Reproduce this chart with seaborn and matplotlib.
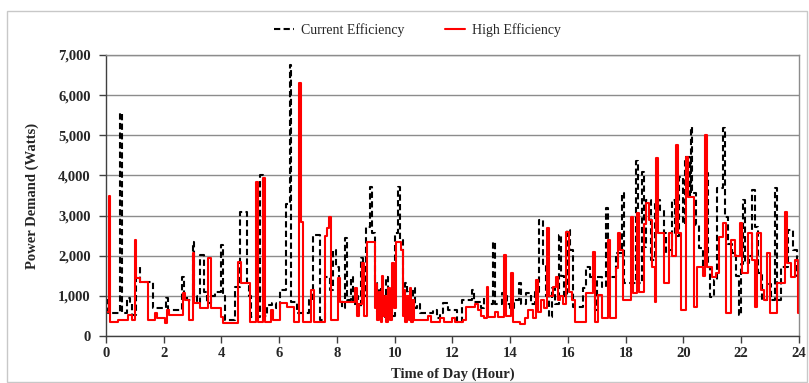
import matplotlib
matplotlib.use("Agg")
import matplotlib.pyplot as plt
from matplotlib.patches import Rectangle
from matplotlib.ticker import FuncFormatter, MultipleLocator
import pandas as pd
import seaborn as sns

# Household power demand over one day, step changes (hour of day, watts)
current_hours = [
    0.00, 0.07, 0.48, 0.54, 0.73, 0.83, 0.90, 1.04, 1.18, 1.63, 2.08, 2.15, 2.65, 2.70,
    2.81, 3.00, 3.05, 3.15, 3.26, 3.39, 3.50, 3.64, 3.77, 4.00, 4.05, 4.12, 4.47, 4.64,
    4.88, 4.95, 5.02, 5.32, 5.45, 5.58, 5.75, 5.89, 6.03, 6.25, 6.36, 6.41, 6.61, 7.03,
    7.17, 7.41, 7.58, 7.76, 7.86, 7.97, 8.07, 8.17, 8.29, 8.35, 8.48, 8.55, 8.66, 8.73,
    8.83, 8.90, 9.00, 9.14, 9.21, 9.32, 9.39, 9.45, 9.52, 9.59, 9.66, 9.71, 9.77, 9.84,
    9.90, 10.01, 10.13, 10.18, 10.29, 10.36, 10.42, 10.49, 10.56, 10.63, 10.70, 10.77,
    10.87, 11.32, 11.46, 11.57, 11.67, 11.84, 12.16, 12.33, 12.68, 12.74, 12.99, 13.09,
    13.23, 13.40, 13.47, 13.71, 13.89, 13.99, 14.13, 14.32, 14.37, 14.55, 14.72, 14.86,
    15.00, 15.13, 15.24, 15.34, 15.45, 15.55, 15.69, 15.76, 15.86, 15.97, 16.07, 16.17,
    16.52, 16.62, 16.76, 16.87, 16.94, 17.00, 17.18, 17.32, 17.39, 17.66, 17.87, 17.94,
    18.35, 18.42, 18.56, 18.63, 18.70, 18.87, 19.00, 19.17, 19.31, 19.41, 19.51, 19.62,
    19.72, 19.83, 19.97, 20.07, 20.21, 20.26, 20.31, 20.45, 20.55, 20.66, 20.76, 20.81,
    20.86, 20.93, 21.06, 21.17, 21.38, 21.45, 21.55, 21.69, 21.83, 21.93, 22.00, 22.07,
    22.13, 22.27, 22.39, 22.48, 22.58, 22.72, 22.89, 23.03, 23.17, 23.24, 23.38, 23.62,
    23.79, 23.93, 24.00,
]
current_watts = [
    900, 570, 5550, 570, 950, 820, 520, 1720, 1350, 700, 950, 650, 1470, 1000,
    900, 2340, 1000, 820, 2020, 1100, 820, 1000, 1100, 2270, 1000, 400, 1220, 3090,
    1320, 1000, 470, 4010, 500, 770, 820, 700, 1150, 3300, 6750, 850, 570, 900,
    2510, 400, 1470, 1150, 2140, 1720, 900, 700, 2440, 900, 1470, 800, 1000, 700,
    1940, 1000, 2710, 3710, 2560, 1320, 600, 1200, 500, 1000, 470, 1470, 700, 1100,
    500, 2560, 3710, 2390, 1000, 1320, 600, 1100, 500, 1200, 700, 800,
    570, 650, 450, 570, 820, 650, 350, 900, 1150, 850, 700, 950,
    800, 2340, 800, 1070, 800, 700, 900, 1320, 800, 1070, 800, 1100,
    2890, 1800, 1000, 470, 1200, 800, 2510, 1500, 1000, 2640, 2140, 720,
    1200, 1720, 1470, 1320, 650, 1470, 1220, 3190, 1470, 2070, 3570, 1320,
    4360, 1320, 4090, 2220, 3390, 1890, 3390, 3140, 2560, 2070, 2140, 3390,
    2500, 3960, 2800, 4460, 3500, 5210, 3560, 2760, 2200, 1700, 2400, 4060,
    1720, 970, 1400, 3690, 5180, 2960, 2300, 2070, 1500, 520, 1800, 3390,
    1820, 2000, 3640, 2710, 1570, 900, 1300, 900, 3690, 900, 1720, 2640,
    2140, 1500, 1500,
]

high_hours = [
    0.00, 0.09, 0.14, 0.42, 0.76, 0.90, 0.99, 1.04, 1.18, 1.45, 1.70, 1.77, 2.04, 2.11,
    2.18, 2.67, 2.74, 2.87, 3.00, 3.05, 3.26, 3.53, 3.65, 3.98, 4.05, 4.57, 4.66, 4.99,
    5.21, 5.26, 5.44, 5.49, 5.71, 5.78, 6.03, 6.27, 6.51, 6.70, 6.75, 6.82, 7.10, 7.20,
    7.58, 7.65, 7.72, 7.79, 8.03, 8.09, 8.62, 8.68, 8.76, 8.87, 8.94, 9.04, 9.32, 9.35,
    9.40, 9.45, 9.51, 9.56, 9.61, 9.66, 9.71, 9.77, 9.82, 9.92, 9.97, 10.04, 10.22, 10.27,
    10.32, 10.37, 10.42, 10.48, 10.53, 10.58, 10.63, 10.68, 11.15, 11.26, 11.57, 11.71,
    11.98, 12.09, 12.36, 12.47, 12.78, 12.88, 12.99, 13.09, 13.18, 13.23, 13.47, 13.58,
    13.80, 13.85, 14.03, 14.10, 14.34, 14.51, 14.61, 14.79, 14.91, 14.96, 15.06, 15.17,
    15.27, 15.34, 15.48, 15.58, 15.65, 15.72, 15.83, 15.93, 16.02, 16.14, 16.24, 16.62,
    16.87, 16.94, 17.04, 17.18, 17.40, 17.45, 17.66, 17.73, 17.80, 17.90, 18.18, 18.25,
    18.39, 18.46, 18.63, 18.70, 18.81, 18.91, 19.01, 19.06, 19.13, 19.32, 19.50, 19.60,
    19.74, 19.81, 19.91, 20.09, 20.16, 20.36, 20.47, 20.68, 20.76, 20.83, 20.99, 21.13,
    21.23, 21.37, 21.47, 21.65, 21.78, 21.96, 22.03, 22.23, 22.37, 22.48, 22.55, 22.68,
    22.79, 22.89, 23.00, 23.24, 23.53, 23.60, 23.72, 23.86, 23.97, 24.00,
]
high_watts = [
    600, 3490, 350, 400, 520, 400, 2390, 1440, 1350, 400, 570, 450, 330, 650,
    520, 1070, 900, 400, 2070, 820, 700, 1940, 700, 470, 330, 1840, 1320, 350,
    3840, 350, 3930, 350, 650, 400, 820, 720, 350, 6300, 2840, 350, 1150, 350,
    2500, 2700, 2960, 400, 1440, 850, 1190, 500, 800, 1820, 500, 2340, 700, 1300,
    400, 1100, 350, 1500, 500, 1000, 350, 1200, 400, 1820, 700, 2340, 2140, 500,
    1150, 350, 1000, 400, 1200, 350, 900, 400, 500, 350, 450, 350,
    450, 350, 400, 720, 800, 650, 500, 450, 1220, 470, 600, 470,
    2020, 500, 1570, 350, 300, 450, 650, 450, 1400, 600, 900, 700,
    2700, 1000, 1220, 1470, 900, 1000, 800, 2600, 1100, 900, 350, 1070,
    2090, 350, 1020, 450, 2390, 450, 1700, 2560, 2150, 900, 2960, 1070,
    3060, 1100, 2800, 3310, 2900, 1720, 850, 4430, 2560, 1320, 2560, 2000,
    4760, 2560, 650, 4460, 3460, 720, 1720, 1500, 5000, 1720, 1470, 1570,
    2470, 2810, 570, 2390, 1990, 2810, 1570, 2560, 1890, 720, 2560, 1150,
    900, 2070, 570, 1320, 3090, 1820, 1470, 1890, 570, 570,
]

series_names = ["Current Efficiency", "High Efficiency"]
x_ticks = list(range(0, 25, 2))

current_df = pd.DataFrame({"hour": current_hours, "watts": current_watts})
high_df = pd.DataFrame({"hour": high_hours, "watts": high_watts})

sns.set_theme(style="white")
plt.rcParams["font.family"] = ["Liberation Serif", "DejaVu Serif"]

fig = plt.figure(figsize=(8.09, 3.83), dpi=100)
ax = fig.add_axes([0.131, 0.1227, 0.8566, 0.7337])

sns.lineplot(data=current_df, x="hour", y="watts", ax=ax, estimator=None, sort=False,
             color="black", linewidth=1.5, drawstyle="steps-post",
             label=series_names[0])
ax.lines[-1].set_dashes([3, 1.6])
sns.lineplot(data=high_df, x="hour", y="watts", ax=ax, estimator=None, sort=False,
             color="#ff0000", linewidth=1.5, drawstyle="steps-post",
             label=series_names[1])

ax.set_xlim(0, 24)
ax.set_ylim(0, 7000)
ax.set_xticks(x_ticks)
ax.yaxis.set_major_locator(MultipleLocator(1000))
ax.yaxis.set_major_formatter(FuncFormatter(lambda v, p: f"{int(v):,}"))
ax.grid(axis="y", color="#8c8c8c", linewidth=1.0)
ax.set_axisbelow(True)

for side in ("top", "right"):
    ax.spines[side].set_color("#8c8c8c")
    ax.spines[side].set_linewidth(1.0)
for side in ("left", "bottom"):
    ax.spines[side].set_color("#404040")
    ax.spines[side].set_linewidth(1.0)

ax.tick_params(axis="both", which="major", direction="out", length=5, width=1,
               color="#404040", labelsize=10.5, bottom=True, left=True)
ax.tick_params(axis="x", pad=3)
ax.tick_params(axis="y", pad=6)
for lab in ax.get_xticklabels() + ax.get_yticklabels():
    lab.set_fontweight("bold")

ax.set_xlabel("Time of Day (Hour)", fontsize=10.5, fontweight="bold", labelpad=5)
ax.set_ylabel("Power Demand (Watts)", fontsize=10.5, fontweight="bold", labelpad=14)

leg = ax.legend(loc="lower center", bbox_to_anchor=(0.449, 1.045), ncol=2,
                frameon=False, fontsize=10, handlelength=1.5, handletextpad=0.45,
                columnspacing=2.9, borderaxespad=0)
for line in leg.get_lines():
    line.set_linewidth(1.5)

fig.patches.append(Rectangle((0.009, 0.003), 0.988, 0.969, transform=fig.transFigure,
                             fill=False, edgecolor="#c8c8c8", linewidth=1.0))

fig.savefig("out.png", dpi=100)
